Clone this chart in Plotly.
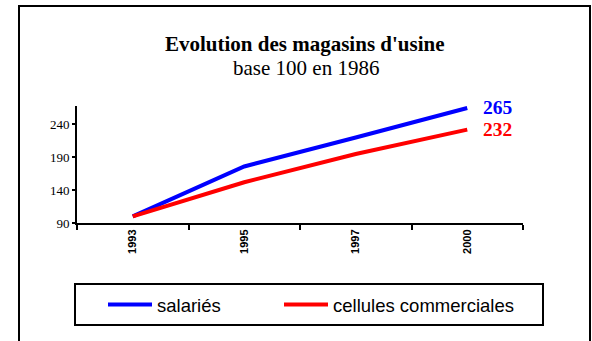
import plotly.graph_objects as go

years = ["1993", "1995", "1997", "2000"]
salaries = [100, 176, 220, 265]
cellules = [100, 152, 195, 232]
series_names = ["salariés", "cellules commerciales"]
series_colors = ["#0000FF", "#FF0000"]

W, H = 592, 341
L, R, T, B = 77, 69, 106, 118
PW, PH = W - L - R, H - T - B


def px(x):
    return (x - L) / PW


def py(y):
    return (H - B - y) / PH


legend_ids = ["legend", "legend2"]
legend_left = [103, 279]

fig = go.Figure()
for name, vals, col, lg in zip(series_names, [salaries, cellules], series_colors, legend_ids):
    fig.add_trace(go.Scatter(
        x=years, y=vals, mode="lines", name=name, legend=lg,
        line=dict(color=col, width=4),
    ))
    # end-of-line value label, placed at the last category index
    fig.add_annotation(
        x=len(years) - 1, y=vals[-1], text=f"<b>{vals[-1]}</b>", showarrow=False,
        xanchor="left", yanchor="middle", xshift=14,
        font=dict(family="Liberation Serif", size=19.5, color=col),
    )

# outer frame
fig.add_shape(type="rect", xref="paper", yref="paper",
              x0=px(19), x1=px(590), y0=py(345), y1=py(6),
              line=dict(color="black", width=2))
# legend frame
fig.add_shape(type="rect", xref="paper", yref="paper",
              x0=px(75), x1=px(543), y0=py(325), y1=py(284),
              line=dict(color="black", width=2))

fig.add_annotation(
    xref="paper", yref="paper", x=px(305), y=py(44), showarrow=False,
    text="<b>Evolution des magasins d'usine</b>", yanchor="middle",
    font=dict(family="Liberation Serif", size=21, color="black"),
)
fig.add_annotation(
    xref="paper", yref="paper", x=px(306), y=py(68), showarrow=False,
    text="base 100 en 1986", yanchor="middle",
    font=dict(family="Liberation Serif", size=21, color="black"),
)

legend_style = dict(
    orientation="h", y=py(305), xanchor="left", yanchor="middle",
    font=dict(family="Liberation Sans", size=18.5, color="black"),
    itemwidth=44, bgcolor="rgba(0,0,0,0)", borderwidth=0,
)

fig.update_layout(
    width=W, height=H,
    margin=dict(l=L, r=R, t=T, b=B),
    paper_bgcolor="white", plot_bgcolor="white",
    showlegend=True,
    legend=dict(x=px(legend_left[0]), **legend_style),
    legend2=dict(x=px(legend_left[1]), **legend_style),
    xaxis=dict(
        type="category", range=[-0.5, 3.5], tickson="boundaries",
        showline=True, linecolor="black", linewidth=2,
        ticks="outside", ticklen=5, tickwidth=2, tickcolor="black",
        tickangle=-90, showgrid=False, zeroline=False,
        tickfont=dict(family="Liberation Sans", size=11, color="black", weight="bold"),
    ),
    yaxis=dict(
        range=[90, 268], tickvals=[90, 140, 190, 240],
        showline=True, linecolor="black", linewidth=2,
        ticks="outside", ticklen=3, tickwidth=2, tickcolor="black",
        showgrid=False, zeroline=False,
        tickfont=dict(family="Liberation Serif", size=13, color="black"),
    ),
)

fig.write_html("out.html")
